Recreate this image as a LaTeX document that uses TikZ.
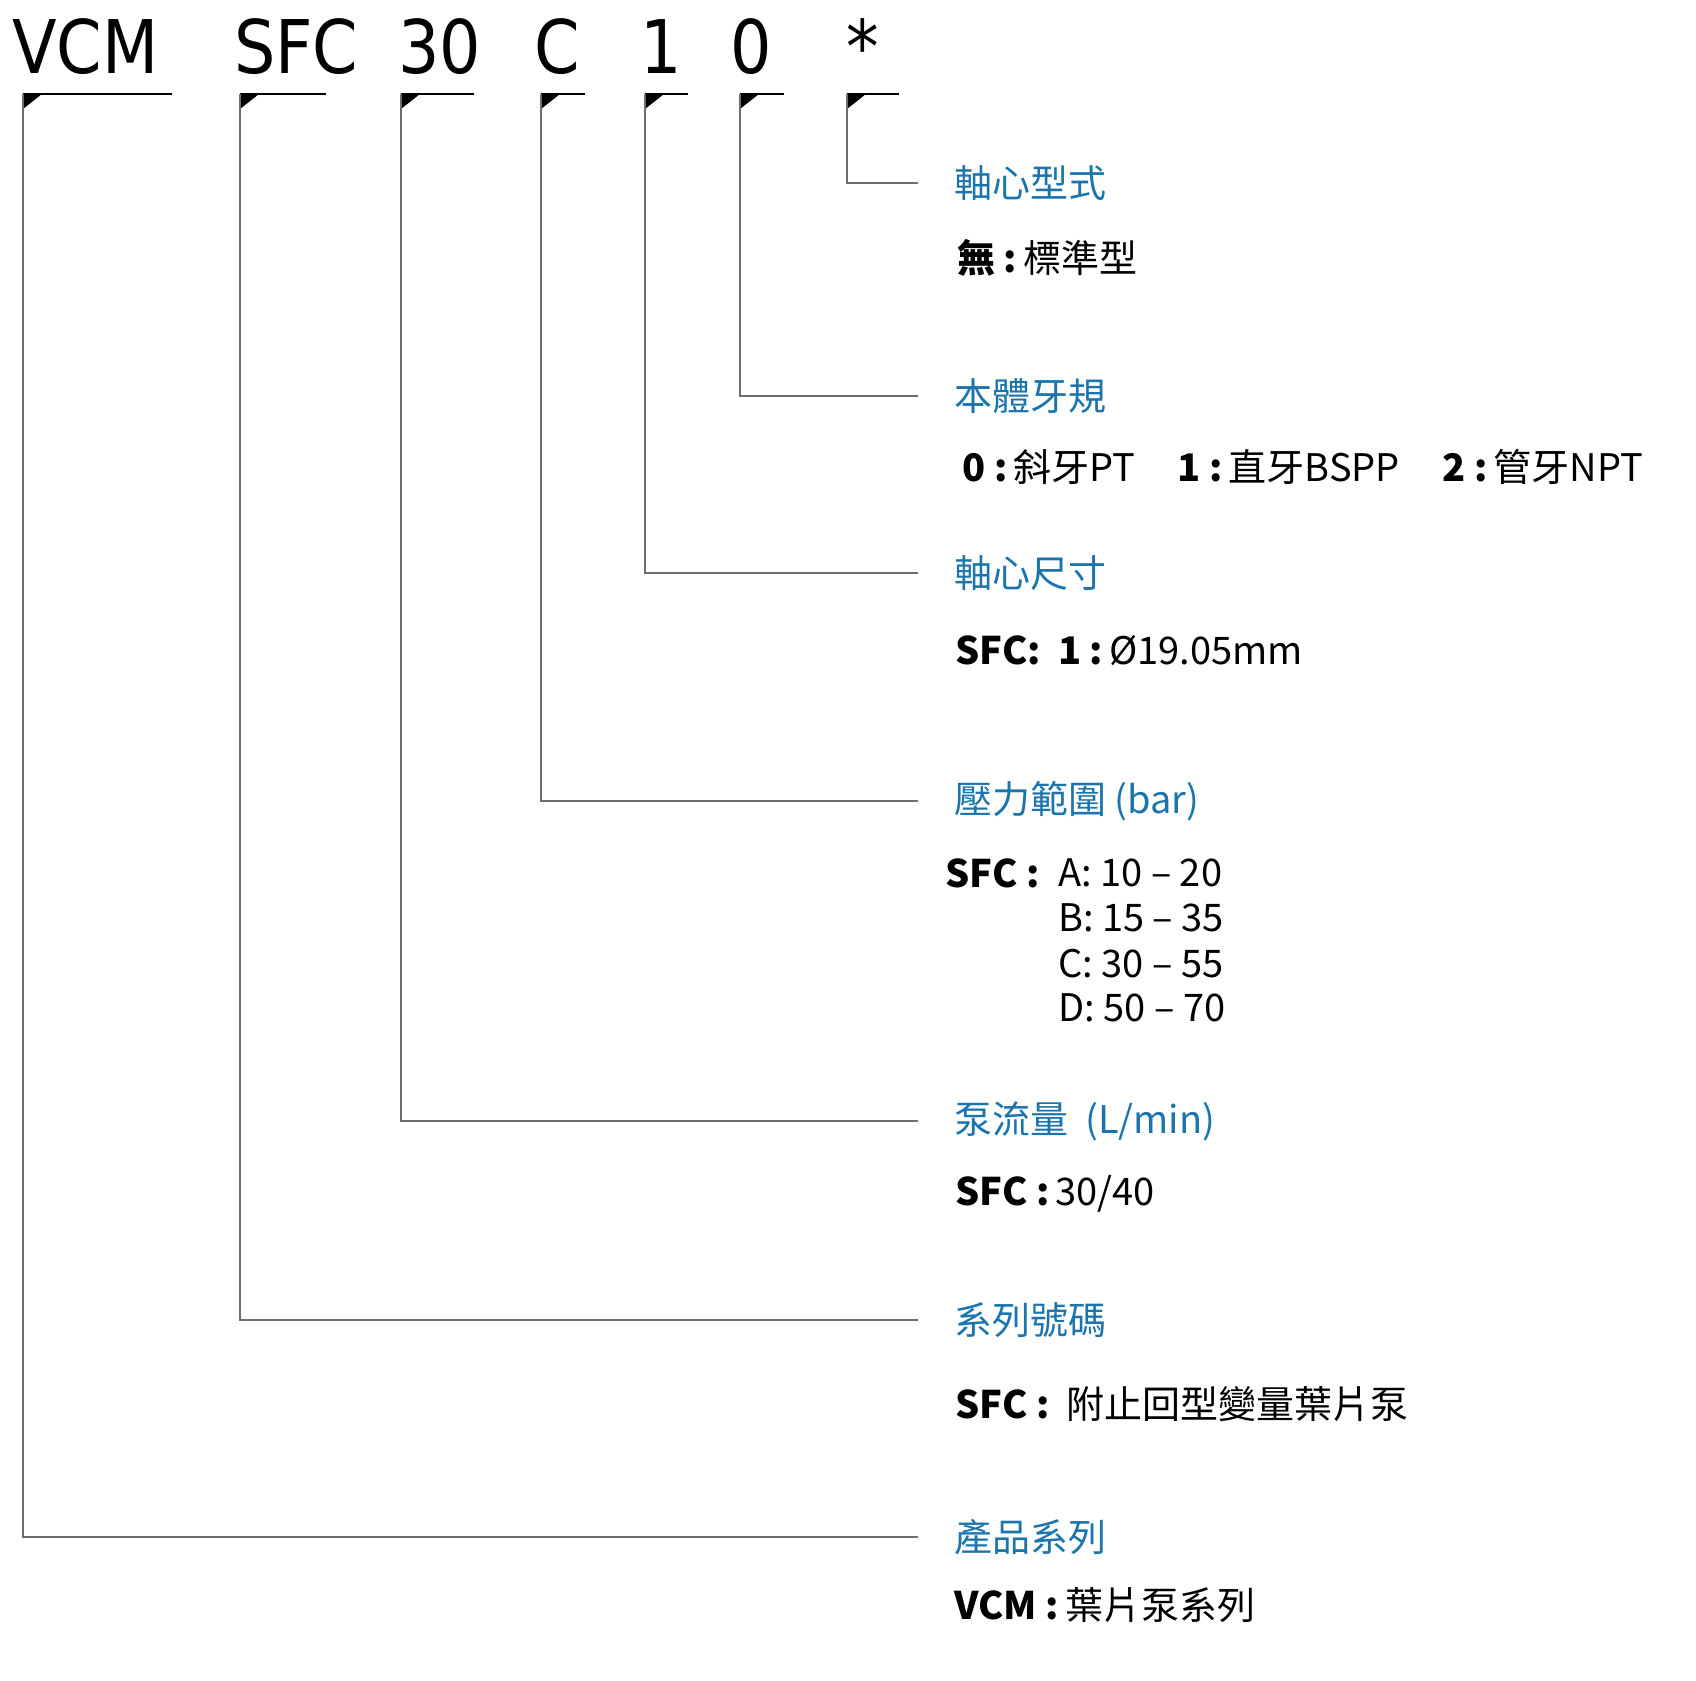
\documentclass[tikz,border=0pt]{standalone}
\usepackage{fontspec}
\usepackage{xcolor}
\usepackage{graphicx}
\usepackage{tikz}
\usetikzlibrary{positioning}

\setmainfont{Noto Sans CJK TC}
\newfontfamily\codefamily{DejaVu Sans}
\newcommand\codefont{\codefamily\fontsize{74}{74}\selectfont}
\newcommand\headfont{\fontsize{38}{44}\selectfont}
\newcommand\itemfont{\fontsize{38}{44}\selectfont}
\newcommand\codetext[1]{\scalebox{0.88}[1]{#1}}

\definecolor{headblue}{RGB}{27,117,172}
\definecolor{leadgray}{RGB}{110,110,110}

\begin{document}
\begin{tikzpicture}[
	x=1pt, y=-1pt,
	code/.style={font=\codefont, anchor=base west, inner sep=0pt},
	head/.style={font=\headfont, text=headblue, anchor=west, inner sep=0pt},
	item/.style={font=\itemfont, anchor=west, inner sep=0pt},
	underline/.style={line width=1.4pt},
	leader/.style={draw=leadgray, line width=1.3pt}
]
	\useasboundingbox (0,0) rectangle (1696,1680);

	% model code
	\node (cVCM) [code] at (12,74) {\codetext{VCM}};
	\node (cSFC) [code] at (234,74) {\codetext{SFC}};
	\node (cFlow) [code] at (398,74) {\codetext{30}};
	\node (cPres) [code] at (534,74) {\codetext{C}};
	\node (cShaft) [code] at (640,74) {\codetext{1}};
	\node (cThread) [code] at (730,74) {\codetext{0}};
	\node (cType) [code] at (846,74) {\codetext{*}};

	% headings and options
	\node (hType) [head] at (954,183) {軸心型式};
	\node (iType) [item] at (957,258) {\textbf{無 :}\,標準型};

	\node (hThread) [head] at (954,396) {本體牙規};
	\node (iThreadA) [item] at (962,467) {\textbf{0 :}\,斜牙PT};
	\node (iThreadB) [item] at (1177,467) {\textbf{1 :}\,直牙BSPP};
	\node (iThreadC) [item] at (1442,467) {\textbf{2 :}\,管牙NPT};

	\node (hShaft) [head] at (954,573) {軸心尺寸};
	\node (iShaft) [item] at (955,651) {\textbf{SFC:\ \ 1 :}\,Ø19.05mm};

	\node (hPres) [head] at (954,801) {壓力範圍 (bar)};
	\node (iPres) [item] at (945,873) {\textbf{SFC :}};
	\foreach \rng/\yy in {A: 10 – 20/873, B: 15 – 35/918, C: 30 – 55/964, D: 50 – 70/1008}
		\node [item] at (1058,\yy) {\rng};

	\node (hFlow) [head] at (954,1121) {泵流量\ \ (L/min)};
	\node (iFlow) [item] at (955,1194) {\textbf{SFC :}\,30/40};

	\node (hSFC) [head] at (954,1320) {系列號碼};
	\node (iSFC) [item] at (955,1404) {\textbf{SFC :}\ \ 附止回型變量葉片泵};

	\node (hVCM) [head] at (954,1537) {產品系列};
	\node (iVCM) [item] at (954,1605) {\textbf{VCM :}\,葉片泵系列};

	% underlines, ticks and leaders
	\foreach \name/\ux/\uw in {VCM/23/149, SFC/240/86, Flow/401/73, Pres/541/44, Shaft/645/43, Thread/740/44, Type/847/52}{
		\coordinate (u\name) at (\ux,94);
		\draw [underline] (u\name) -- ++(\uw,0);
		\fill (u\name) -- ++(19,0) -- ++(-19,15) -- cycle;
		\draw [leader] (u\name) |- ([xshift=-36pt]h\name.west);
	}

\end{tikzpicture}
\end{document}
